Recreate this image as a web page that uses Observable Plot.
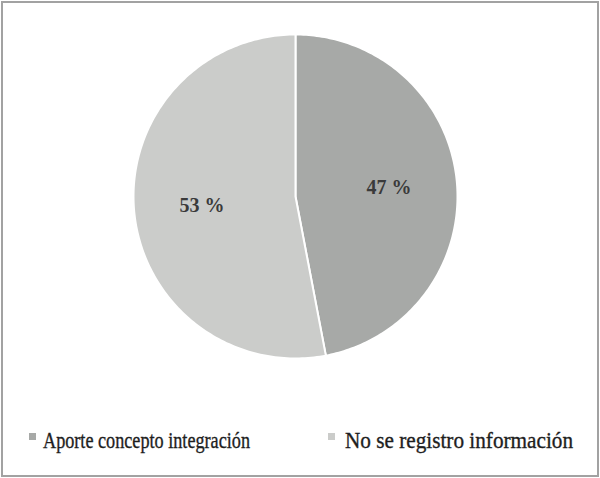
<!DOCTYPE html>
<html>
<head>
<meta charset="utf-8">
<script src="https://cdn.jsdelivr.net/npm/d3@7"></script>
<script src="https://cdn.jsdelivr.net/npm/@observablehq/plot@0.6"></script>
<style>
  html, body { margin: 0; padding: 0; background: #fff; }
  #wrap { position: relative; width: 600px; height: 478px; overflow: hidden; }
  #frame { position: absolute; left: 1px; top: 1px; width: 594px; height: 472px; border: 2px solid #a2a2a2; pointer-events: none; }
  #chart svg, #legend svg { display: block; }
</style>
</head>
<body>
<div id="wrap">
  <div id="chart"></div>
  <div id="legend"></div>
  <div id="frame"></div>
</div>
<script>
const categories = ["Aporte concepto integración", "No se registro información"];
const values = [47, 53];
const labels = ["47 %", "53 %"];
const colors = ["#a7a9a7", "#cbccca"];

const pie = d3.pie().sort(null).value(d => d)(values);

// Slice outlines on a unit circle (angle 0 at top, clockwise), derived from the pie angles
const slices = pie.map((p) => {
  const pts = [{x: 0, y: 0}];
  const n = 180;
  for (let k = 0; k <= n; k++) {
    const a = p.startAngle + (p.endAngle - p.startAngle) * k / n;
    pts.push({x: Math.sin(a), y: Math.cos(a)});
  }
  pts.push({x: 0, y: 0});
  return pts;
});

const labelR = 0.58;
const labelData = pie.map((p, i) => {
  const a = (p.startAngle + p.endAngle) / 2;
  return {x: labelR * Math.sin(a), y: labelR * Math.cos(a), text: labels[i]};
});

const cx = 295, cy = 196, R = 162;

const plot = Plot.plot({
  width: 600,
  height: 410,
  margin: 0,
  x: {domain: [-1, 1], range: [cx - R, cx + R], axis: null},
  y: {domain: [-1, 1], range: [cy + R, cy - R], axis: null},
  marks: [
    ...slices.map((s, i) => Plot.line(s, {
      x: "x", y: "y", fill: colors[i], stroke: "#ffffff", strokeWidth: 2, strokeLinejoin: "round"
    })),
    Plot.text(labelData, {
      x: "x", y: "y", text: "text",
      fontFamily: "Liberation Serif", fontSize: 20, fontWeight: "bold", fill: "#3a3a3a"
    })
  ]
});
document.getElementById("chart").appendChild(plot);

// Legend below the plot
const legendItems = [
  {sx: 29, tx: 43, len: 207},
  {sx: 328, tx: 345, len: 228}
];
const lg = d3.create("svg").attr("width", 600).attr("height", 68);
legendItems.forEach((it, i) => {
  lg.append("rect").attr("x", it.sx).attr("y", 23).attr("width", 7).attr("height", 7).attr("fill", colors[i]);
  lg.append("text").attr("x", it.tx).attr("y", 38)
    .attr("font-family", "Liberation Serif").attr("font-size", 23)
    .attr("fill", "#1e1e1e").attr("stroke", "#1e1e1e").attr("stroke-width", 0.35)
    .attr("textLength", it.len).attr("lengthAdjust", "spacingAndGlyphs")
    .text(categories[i]);
});
document.getElementById("legend").appendChild(lg.node());
</script>
</body>
</html>
